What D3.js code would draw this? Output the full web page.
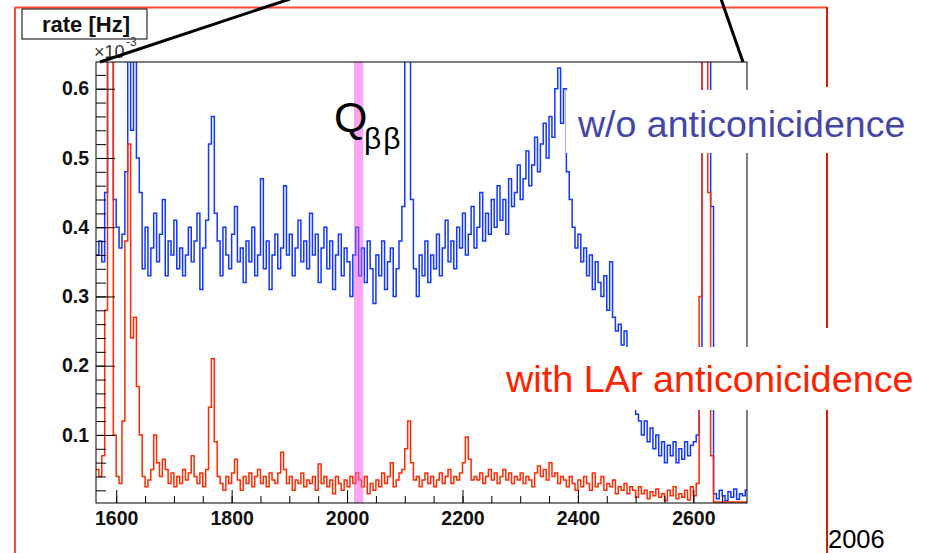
<!DOCTYPE html>
<html>
<head>
<meta charset="utf-8">
<script src="https://cdn.jsdelivr.net/npm/d3@7"></script>
<style>
  body { margin: 0; background: #fff; }
  text { font-family: "Liberation Sans", Arial, sans-serif; }
</style>
</head>
<body>
<script>
// histogram bins: 5 keV wide, first bin starts at 1565 keV
var binStart = 1565
var binWidth = 5

// rate [Hz] x 1e-3, w/o anticoincidence (blue), one row = 10 bins = 50 keV
var blueRate = [
  0.36, 0.38, 0.35, 0.45, 0.9, 0.9, 0.44, 0.40, 0.37, 0.39,   // 1565
  0.48, 0.9, 0.54, 0.9, 0.50, 0.45, 0.34, 0.40, 0.33, 0.37,   // 1615
  0.42, 0.35, 0.39, 0.44, 0.33, 0.38, 0.36, 0.41, 0.34, 0.37, // 1665
  0.33, 0.36, 0.40, 0.35, 0.38, 0.42, 0.31, 0.37, 0.41, 0.52, // 1715
  0.56, 0.42, 0.38, 0.33, 0.40, 0.36, 0.34, 0.39, 0.43, 0.35, // 1765
  0.37, 0.32, 0.38, 0.35, 0.40, 0.33, 0.36, 0.47, 0.34, 0.38, // 1815
  0.31, 0.36, 0.39, 0.34, 0.37, 0.46, 0.36, 0.39, 0.33, 0.37, // 1865
  0.41, 0.35, 0.38, 0.34, 0.42, 0.36, 0.39, 0.32, 0.37, 0.40, // 1915
  0.34, 0.38, 0.31, 0.36, 0.39, 0.33, 0.37, 0.35, 0.30, 0.36, // 1965
  0.40, 0.33, 0.37, 0.32, 0.38, 0.34, 0.29, 0.36, 0.33, 0.38, // 2015
  0.31, 0.35, 0.37, 0.30, 0.34, 0.38, 0.43, 0.9, 0.9, 0.44,   // 2065
  0.34, 0.30, 0.36, 0.33, 0.38, 0.32, 0.36, 0.34, 0.39, 0.33, // 2115
  0.37, 0.41, 0.35, 0.38, 0.34, 0.40, 0.37, 0.42, 0.36, 0.39, // 2165
  0.43, 0.37, 0.40, 0.45, 0.38, 0.42, 0.39, 0.44, 0.40, 0.46, // 2215
  0.41, 0.44, 0.39, 0.47, 0.43, 0.45, 0.49, 0.44, 0.47, 0.51, // 2265
  0.46, 0.49, 0.53, 0.48, 0.52, 0.55, 0.50, 0.56, 0.53, 0.60, // 2315
  0.63, 0.55, 0.60, 0.48, 0.44, 0.40, 0.37, 0.39, 0.35, 0.37, // 2365
  0.33, 0.36, 0.31, 0.35, 0.32, 0.30, 0.33, 0.28, 0.35, 0.27, // 2415
  0.25, 0.26, 0.23, 0.25, 0.22, 0.19, 0.16, 0.13, 0.12, 0.10, // 2465
  0.12, 0.09, 0.11, 0.08, 0.10, 0.07, 0.09, 0.06, 0.085, 0.07, // 2515
  0.09, 0.06, 0.08, 0.065, 0.09, 0.07, 0.085, 0.09, 0.10, 0.17, // 2565
  0.9, 0.9, 0.9, 0.43, 0.015, 0.008, 0.02, 0.012, 0.005, 0.018, // 2615
  0.01, 0.022, 0.007, 0.015, 0.012, 0.02                        // 2665
]

// rate [Hz] x 1e-3, with LAr anticoincidence (red)
var redRate = [
  0.05, 0.04, 0.07, 0.28, 0.9, 0.9, 0.10, 0.04, 0.03, 0.12,        // 1565
  0.38, 0.52, 0.24, 0.27, 0.17, 0.10, 0.04, 0.025, 0.035, 0.05,    // 1615
  0.10, 0.06, 0.04, 0.065, 0.05, 0.03, 0.045, 0.025, 0.04, 0.03,   // 1665
  0.05, 0.035, 0.045, 0.07, 0.04, 0.03, 0.045, 0.025, 0.05, 0.14,  // 1715
  0.21, 0.09, 0.04, 0.03, 0.02, 0.04, 0.03, 0.045, 0.065, 0.035,   // 1765
  0.02, 0.04, 0.03, 0.045, 0.025, 0.04, 0.05, 0.03, 0.04, 0.025,   // 1815
  0.045, 0.035, 0.03, 0.045, 0.075, 0.05, 0.03, 0.04, 0.02, 0.035, // 1865
  0.03, 0.045, 0.025, 0.035, 0.03, 0.04, 0.02, 0.058, 0.03, 0.04,  // 1915
  0.025, 0.035, 0.015, 0.04, 0.03, 0.02, 0.035, 0.025, 0.04, 0.03, // 1965
  0.045, 0.035, 0.025, 0.04, 0.015, 0.03, 0.02, 0.035, 0.025, 0.045, // 2015
  0.03, 0.04, 0.06, 0.025, 0.035, 0.045, 0.05, 0.08, 0.12, 0.06,   // 2065
  0.035, 0.04, 0.025, 0.035, 0.045, 0.03, 0.04, 0.025, 0.035, 0.045, // 2115
  0.03, 0.04, 0.05, 0.03, 0.04, 0.035, 0.045, 0.06, 0.097, 0.065,  // 2165
  0.035, 0.04, 0.035, 0.045, 0.03, 0.04, 0.05, 0.035, 0.045, 0.03, // 2215
  0.04, 0.05, 0.035, 0.045, 0.03, 0.04, 0.035, 0.045, 0.03, 0.04,  // 2265
  0.035, 0.025, 0.045, 0.055, 0.04, 0.05, 0.035, 0.06, 0.04, 0.045, // 2315
  0.03, 0.04, 0.035, 0.025, 0.04, 0.03, 0.02, 0.035, 0.025, 0.04,  // 2365
  0.03, 0.02, 0.045, 0.025, 0.03, 0.04, 0.02, 0.03, 0.025, 0.035,  // 2415
  0.015, 0.025, 0.02, 0.03, 0.015, 0.025, 0.02, 0.01, 0.025, 0.015, // 2465
  0.02, 0.008, 0.018, 0.012, 0.022, 0.01, 0.015, 0.005, 0.02, 0.012, // 2515
  0.025, 0.008, 0.015, 0.01, 0.02, 0.006, 0.025, 0.012, 0.03, 0.30, // 2565
  0.9, 0.9, 0.45, 0.07, 0.003, 0.003, 0.003, 0.003, 0.003, 0.003,  // 2615
  0.003, 0.003, 0.003, 0.003, 0.003, 0.003                          // 2665
]

var xTicks = [1600, 1800, 2000, 2200, 2400, 2600]
var yTicks = [0.1, 0.2, 0.3, 0.4, 0.5, 0.6]
var qbbBand = [2012, 2028]   // Q_bb marker

var W = 930, H = 553
var svg = d3.select('body').append('svg')
    .attr('width', W)
    .attr('height', H)

// slide frame (red), broken where the text boxes sit
svg.append('line').attr('x1', 15).attr('y1', 7.5).attr('x2', 827).attr('y2', 7.5)
    .attr('stroke', '#ff4a3a').attr('stroke-width', 2)
svg.append('line').attr('x1', 15).attr('y1', 7).attr('x2', 15).attr('y2', H)
    .attr('stroke', '#ff4a3a').attr('stroke-width', 2)
;[[7, 87], [149, 328], [388, 553]].forEach(function (s) {
  svg.append('line').attr('x1', 827).attr('y1', s[0]).attr('x2', 827).attr('y2', s[1])
      .attr('stroke', '#d42000').attr('stroke-width', 2)
})

// scales
var x = d3.scaleLinear().domain([1565, 2693]).range([96, 747])
var y = d3.scaleLinear().domain([0.0017, 0.6386]).range([503, 62])

svg.append('clipPath').attr('id', 'plotClip')
  .append('rect').attr('x', 96).attr('y', 62).attr('width', 651).attr('height', 441)

// Q_bb band
svg.append('rect')
    .attr('x', x(qbbBand[0]))
    .attr('y', 62)
    .attr('width', x(qbbBand[1]) - x(qbbBand[0]))
    .attr('height', 441)
    .attr('fill', '#ffb8f8')

function toPoints(vals) {
  var pts = vals.map(function (v, i) { return [binStart + i * binWidth, v] })
  pts.push([binStart + vals.length * binWidth, vals[vals.length - 1]])
  return pts
}
var step = d3.line()
    .x(function (d) { return x(d[0]) })
    .y(function (d) { return y(d[1]) })
    .curve(d3.curveStepAfter)

var g = svg.append('g').attr('clip-path', 'url(#plotClip)')
g.append('path').attr('d', step(toPoints(blueRate)))
    .attr('fill', 'none').attr('stroke', '#1036ff').attr('stroke-width', 1.5)
g.append('path').attr('d', step(toPoints(redRate)))
    .attr('fill', 'none').attr('stroke', '#ff2a00').attr('stroke-width', 1.5)

// band overlay so the data shows through tinted
svg.append('rect')
    .attr('x', x(qbbBand[0]))
    .attr('y', 62)
    .attr('width', x(qbbBand[1]) - x(qbbBand[0]))
    .attr('height', 441)
    .attr('fill', '#ff80f0').attr('opacity', 0.35)

// frame
svg.append('rect').attr('x', 96).attr('y', 62).attr('width', 651).attr('height', 441)
    .attr('fill', 'none').attr('stroke', '#000').attr('stroke-width', 1)

// axes (ticks inside the frame, ROOT style)
var yAxis = d3.axisLeft(y).tickValues(yTicks).tickSizeInner(-19).tickSizeOuter(0).tickPadding(7)
    .tickFormat(d3.format('.1f'))
var yMinor = d3.axisLeft(y).tickValues(d3.range(0.02, 0.63, 0.02)).tickSize(-10).tickFormat('')
var xAxis = d3.axisBottom(x).tickValues(xTicks).tickSizeInner(-13).tickSizeOuter(0).tickPadding(8)
    .tickFormat(d3.format('d'))
var xMinor = d3.axisBottom(x).tickValues(d3.range(1600, 2651, 50)).tickSize(-7).tickFormat('')

function styleAxis(sel) {
  sel.select('.domain').remove()
  sel.selectAll('line').attr('stroke', '#000')
  sel.selectAll('text').attr('font-family', '"Liberation Sans", Arial, sans-serif')
      .attr('font-weight', 'bold').attr('font-size', 19.5).attr('fill', '#111')
}
svg.append('g').attr('transform', 'translate(96,0)').call(yMinor).call(styleAxis)
svg.append('g').attr('transform', 'translate(96,0)').call(yAxis).call(styleAxis)
svg.append('g').attr('transform', 'translate(0,503)').call(xMinor).call(styleAxis)
svg.append('g').attr('transform', 'translate(0,503)').call(xAxis).call(styleAxis)

// y title box
svg.append('rect').attr('x', 22).attr('y', 9).attr('width', 125).attr('height', 30)
    .attr('fill', '#fff').attr('stroke', '#000').attr('stroke-width', 1)
svg.append('text').attr('x', 86).attr('y', 32).attr('text-anchor', 'middle')
    .attr('font-weight', 'bold').attr('font-size', 22).attr('fill', '#111').text('rate [Hz]')

// exponent
svg.append('text').attr('x', 94).attr('y', 58).attr('font-size', 18).attr('fill', '#333').text('×10')
svg.append('text').attr('x', 126).attr('y', 46).attr('font-size', 12).attr('fill', '#333').text('-3')

// zoom lines
svg.append('line').attr('x1', 100).attr('y1', 62).attr('x2', 290).attr('y2', -1)
    .attr('stroke', '#000').attr('stroke-width', 3)
svg.append('line').attr('x1', 743).attr('y1', 62).attr('x2', 721).attr('y2', -1)
    .attr('stroke', '#000').attr('stroke-width', 3)

// Q_bb label
svg.append('text').attr('x', 334).attr('y', 132).attr('font-size', 43).text('Q')
svg.append('text').attr('x', 364).attr('y', 149).attr('font-size', 30).attr('letter-spacing', 2).text('ββ')

// legend text boxes
svg.append('rect').attr('x', 566).attr('y', 90).attr('width', 364).attr('height', 63).attr('fill', '#fff')
svg.append('text').attr('x', 578).attr('y', 137).attr('font-size', 37.5).attr('fill', '#4646a8')
    .text('w/o anticonicidence')
svg.append('rect').attr('x', 500).attr('y', 347).attr('width', 430).attr('height', 63).attr('fill', '#fff')
svg.append('text').attr('x', 506).attr('y', 392).attr('font-size', 37.8).attr('fill', '#ff2200')
    .text('with LAr anticonicidence')

svg.append('text').attr('x', 828).attr('y', 548).attr('font-size', 25.5).attr('fill', '#000').text('2006')
</script>
</body>
</html>
